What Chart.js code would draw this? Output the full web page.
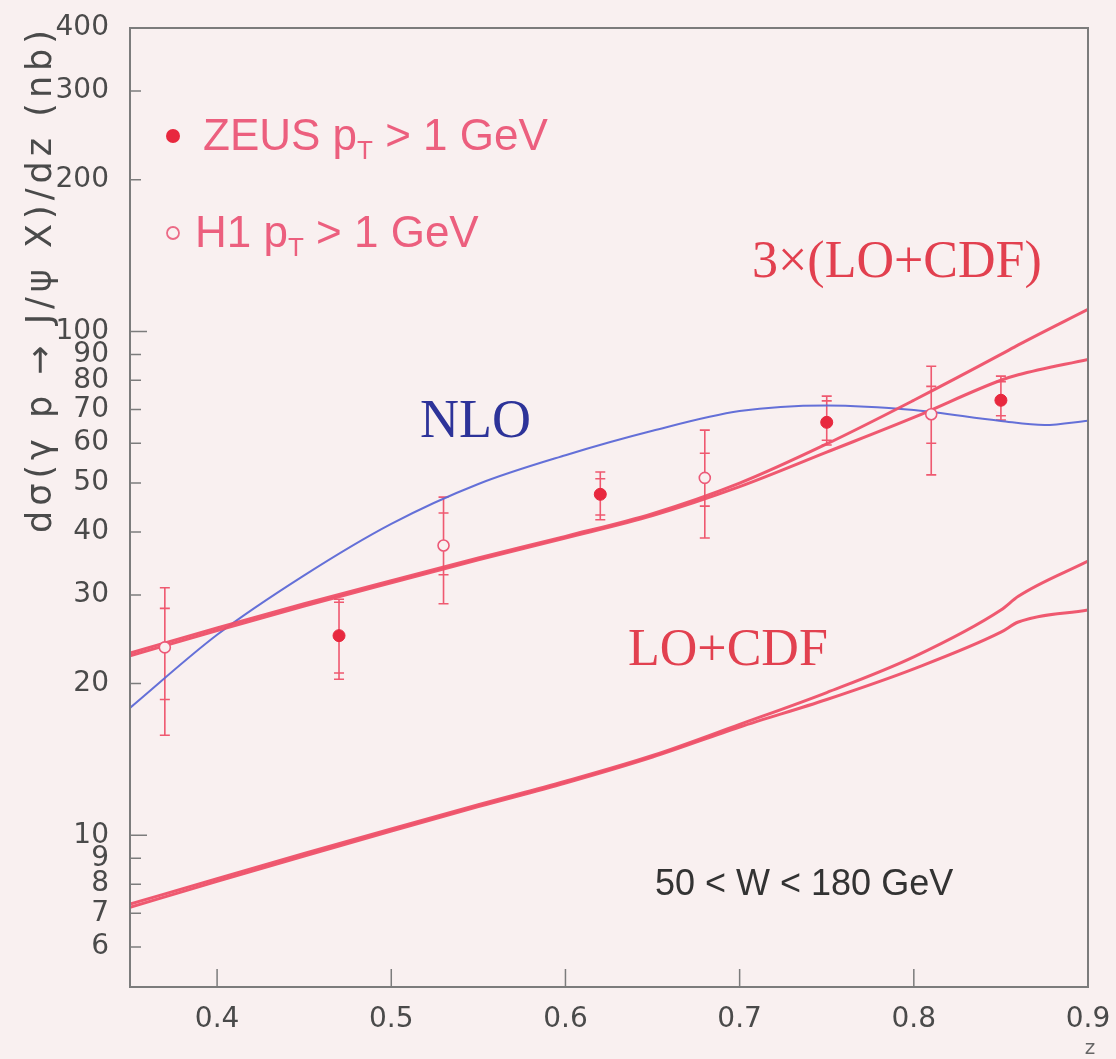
<!DOCTYPE html>
<html>
<head>
<meta charset="utf-8">
<script src="https://cdn.jsdelivr.net/npm/chart.js@4.4.1/dist/chart.umd.min.js"></script>
<style>
  html, body { margin: 0; padding: 0; background: #f9f0f0; }
  canvas { display: block; }
</style>
</head>
<body>
<canvas id="psi-chart" width="1116" height="1059"></canvas>
<script>
// z grid shared by the LO+CDF curves
const zGrid = [0.35, 0.40, 0.45, 0.50, 0.55, 0.60, 0.65, 0.70, 0.75, 0.80, 0.85, 0.86, 0.90];
const loCdfUpper = [7.3, 8.2, 9.2, 10.3, 11.5, 12.8, 14.4, 16.6, 19.2, 22.6, 28.0, 29.8, 35.0];
const loCdfLower = [7.2, 8.1, 9.1, 10.2, 11.4, 12.7, 14.3, 16.4, 18.6, 21.4, 25.3, 26.5, 28.0];
const triLoCdfUpper = [23.0, 25.8, 28.8, 32.0, 35.5, 39.2, 43.5, 50.0, 59.8, 73.0, 90.0, 94.0, 110.6];
const triLoCdfLower = [22.7, 25.5, 28.5, 31.7, 35.2, 38.9, 43.1, 49.2, 57.6, 67.5, 80.0, 82.0, 88.0];

// NLO curve
const nloZ = [0.35, 0.40, 0.45, 0.50, 0.55, 0.60, 0.65, 0.70, 0.75, 0.80, 0.85, 0.875, 0.90];
const nloValues = [17.9, 25.0, 32.8, 41.5, 49.8, 56.8, 63.5, 69.5, 71.3, 69.8, 66.4, 65.2, 66.5];

// ZEUS, pT > 1 GeV
const zeusZ = [0.47, 0.62, 0.75, 0.85];
const zeusValues = [24.9, 47.5, 66.0, 73.0];
const zeusStatLo = [21.0, 43.2, 60.8, 68.0];
const zeusStatHi = [29.0, 51.0, 72.8, 79.5];
const zeusTotLo = [20.4, 42.3, 59.5, 66.7];
const zeusTotHi = [29.4, 52.6, 74.4, 81.5];

// H1, pT > 1 GeV
const h1Z = [0.37, 0.53, 0.68, 0.81];
const h1Values = [23.6, 37.6, 51.2, 68.5];
const h1StatLo = [18.6, 32.9, 45.0, 60.0];
const h1StatHi = [28.2, 43.6, 57.3, 77.8];
const h1TotLo = [15.8, 28.8, 38.9, 51.9];
const h1TotHi = [31.0, 46.9, 63.7, 85.3];

const xTicks = [0.4, 0.5, 0.6, 0.7, 0.8, 0.9];
const yTicks = [6, 7, 8, 9, 10, 20, 30, 40, 50, 60, 70, 80, 90, 100, 200, 300, 400];
const yMajor = [10, 100];

const BG = '#f9f0f0';
const RED_LINE = 'rgba(238, 80, 104, 0.95)';
const RED_MARK = '#e8283e';
const BLUE_LINE = 'rgba(92, 104, 214, 0.95)';
const AXIS = '#7c7c7c';

const toPoints = (xs, ys) => xs.map((x, i) => ({ x: x, y: ys[i] }));

function curve(xs, ys, color, width) {
    return {
        data: toPoints(xs, ys),
        borderColor: color,
        borderWidth: width,
        pointRadius: 0,
        fill: false,
        cubicInterpolationMode: 'monotone',
        order: 2
    };
}

const background = {
    id: 'background',
    beforeDraw(chart) {
        const ctx = chart.ctx;
        ctx.save();
        ctx.fillStyle = BG;
        ctx.fillRect(0, 0, chart.width, chart.height);
        ctx.restore();
    }
};

// vertical error bars with caps at the stat and total ends
const errorBars = {
    id: 'errorBars',
    beforeDatasetsDraw(chart) {
        const ctx = chart.ctx;
        const xs = chart.scales.x, ys = chart.scales.y;
        ctx.save();
        ctx.strokeStyle = RED_LINE;
        ctx.lineWidth = 1.6;
        chart.data.datasets.forEach(ds => {
            if (!ds.errors) return;
            const e = ds.errors;
            ds.data.forEach((p, i) => {
                const x = xs.getPixelForValue(p.x);
                ctx.beginPath();
                ctx.moveTo(x, ys.getPixelForValue(e.totHi[i]));
                ctx.lineTo(x, ys.getPixelForValue(e.totLo[i]));
                [e.statLo[i], e.statHi[i], e.totLo[i], e.totHi[i]].forEach(v => {
                    const y = ys.getPixelForValue(v);
                    ctx.moveTo(x - 5, y);
                    ctx.lineTo(x + 5, y);
                });
                ctx.stroke();
            });
        });
        ctx.restore();
    }
};

// box frame plus inward tick marks
const frame = {
    id: 'frame',
    afterDatasetsDraw(chart) {
        const ctx = chart.ctx;
        const a = chart.chartArea;
        const xs = chart.scales.x, ys = chart.scales.y;
        ctx.save();
        ctx.strokeStyle = AXIS;
        ctx.lineWidth = 2;
        ctx.strokeRect(a.left, a.top, a.right - a.left, a.bottom - a.top);
        ctx.lineWidth = 1.5;
        ctx.beginPath();
        xTicks.forEach(v => {
            const x = xs.getPixelForValue(v);
            if (x >= a.right - 2) return;
            ctx.moveTo(x, a.bottom);
            ctx.lineTo(x, a.bottom - 18);
        });
        yTicks.forEach(v => {
            const y = ys.getPixelForValue(v);
            if (y <= a.top + 2) return;
            const len = yMajor.includes(v) ? 17 : 11;
            ctx.moveTo(a.left, y);
            ctx.lineTo(a.left + len, y);
        });
        ctx.stroke();
        ctx.restore();
    }
};

function drawSubscripted(ctx, x, y, parts, size, sub) {
    // parts: [before, subscript, after]
    ctx.font = size + 'px "Liberation Sans", Arial, sans-serif';
    ctx.fillText(parts[0], x, y);
    x += ctx.measureText(parts[0]).width;
    ctx.font = sub + 'px "Liberation Sans", Arial, sans-serif';
    ctx.fillText(parts[1], x, y + 9);
    x += ctx.measureText(parts[1]).width;
    ctx.font = size + 'px "Liberation Sans", Arial, sans-serif';
    ctx.fillText(parts[2], x, y);
}

const annotations = {
    id: 'annotations',
    afterDraw(chart) {
        const ctx = chart.ctx;
        ctx.save();
        ctx.textBaseline = 'alphabetic';
        ctx.textAlign = 'left';

        // legend
        ctx.fillStyle = RED_MARK;
        ctx.beginPath();
        ctx.arc(173, 136, 7, 0, Math.PI * 2);
        ctx.fill();
        ctx.strokeStyle = '#ec6a86';
        ctx.lineWidth = 1.8;
        ctx.beginPath();
        ctx.arc(173, 233, 6, 0, Math.PI * 2);
        ctx.stroke();
        ctx.fillStyle = '#ec5f7e';
        drawSubscripted(ctx, 203, 150, ['ZEUS p', 'T', ' > 1 GeV'], 44, 26);
        drawSubscripted(ctx, 195, 247, ['H1 p', 'T', ' > 1 GeV'], 44, 26);

        // curve labels
        ctx.font = '52px "Liberation Serif", "Times New Roman", serif';
        ctx.fillStyle = '#e2404f';
        ctx.fillText('3×(LO+CDF)', 752, 277);
        ctx.fillText('LO+CDF', 628, 665);
        ctx.font = '54px "Liberation Serif", "Times New Roman", serif';
        ctx.fillStyle = '#2d3399';
        ctx.fillText('NLO', 420, 437);

        ctx.font = '36px "Liberation Sans", Arial, sans-serif';
        ctx.fillStyle = '#333';
        ctx.fillText('50 < W < 180 GeV', 655, 895);

        // axis titles
        ctx.font = '20px "DejaVu Sans", sans-serif';
        ctx.fillStyle = '#666';
        ctx.textAlign = 'center';
        ctx.fillText('z', 1090, 1054);

        ctx.translate(42, 279);
        ctx.rotate(-Math.PI / 2);
        ctx.font = '35px "DejaVu Sans", sans-serif';
        ctx.letterSpacing = '5px';
        ctx.fillStyle = '#4a4a4a';
        ctx.textBaseline = 'middle';
        ctx.fillText('dσ(γ p → J/ψ X)/dz (nb)', 0, 0);
        ctx.restore();
    }
};

Chart.defaults.font.family = '"DejaVu Sans", sans-serif';

const ctx = document.getElementById('psi-chart').getContext('2d');
const psiChart = new Chart(ctx, {
    type: 'line',
    data: {
        datasets: [
            curve(zGrid, loCdfUpper, RED_LINE, 3),
            curve(zGrid, loCdfLower, RED_LINE, 3),
            curve(zGrid, triLoCdfUpper, RED_LINE, 3),
            curve(zGrid, triLoCdfLower, RED_LINE, 3),
            curve(nloZ, nloValues, BLUE_LINE, 2),
            {
                label: 'ZEUS',
                data: toPoints(zeusZ, zeusValues),
                showLine: false,
                pointStyle: 'circle',
                pointRadius: 6,
                pointBackgroundColor: RED_MARK,
                pointBorderColor: RED_MARK,
                pointBorderWidth: 1,
                errors: { statLo: zeusStatLo, statHi: zeusStatHi, totLo: zeusTotLo, totHi: zeusTotHi },
                order: 1
            },
            {
                label: 'H1',
                data: toPoints(h1Z, h1Values),
                showLine: false,
                pointStyle: 'circle',
                pointRadius: 5.5,
                pointBackgroundColor: BG,
                pointBorderColor: '#ec5a78',
                pointBorderWidth: 1.6,
                errors: { statLo: h1StatLo, statHi: h1StatHi, totLo: h1TotLo, totHi: h1TotHi },
                order: 1
            }
        ]
    },
    options: {
        responsive: false,
        animation: false,
        events: [],
        layout: { padding: { top: 28, right: 28, left: 0, bottom: 0 } },
        plugins: {
            legend: { display: false },
            tooltip: { enabled: false },
            title: { display: false }
        },
        scales: {
            x: {
                type: 'linear',
                min: 0.35,
                max: 0.9,
                afterBuildTicks: s => { s.ticks = xTicks.map(v => ({ value: v })); },
                afterFit: s => {
                    s.height = 72;
                    s.paddingLeft = 0;
                    s.paddingRight = 0;
                },
                grid: { display: false },
                border: { display: false },
                ticks: {
                    color: '#4a4a4a',
                    font: { size: 28 },
                    padding: 8,
                    maxRotation: 0,
                    autoSkip: false,
                    callback: v => Number(v).toFixed(1)
                }
            },
            y: {
                type: 'logarithmic',
                min: 5,
                max: 400,
                afterBuildTicks: s => { s.ticks = yTicks.map(v => ({ value: v })); },
                afterFit: s => {
                    s.width = 130;
                    s.paddingTop = 0;
                    s.paddingBottom = 0;
                },
                grid: { display: false },
                border: { display: false },
                ticks: {
                    color: '#4a4a4a',
                    font: { size: 28 },
                    padding: 13,
                    autoSkip: false,
                    callback: v => String(v)
                }
            }
        }
    },
    plugins: [background, errorBars, frame, annotations]
});
</script>
</body>
</html>
